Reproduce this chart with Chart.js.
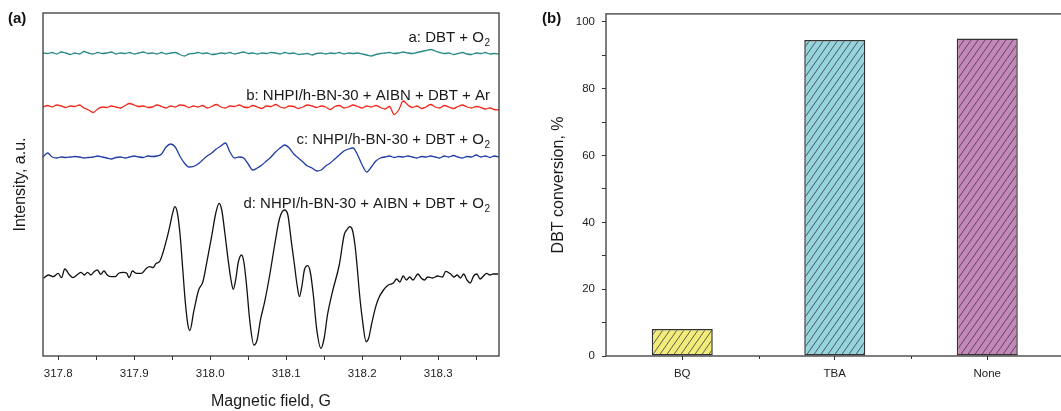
<!DOCTYPE html>
<html><head><meta charset="utf-8">
<script src="https://cdn.jsdelivr.net/npm/chart.js@4"></script>
<style>
html,body{margin:0;padding:0;background:#fff;overflow:hidden;width:1061px;height:411px;}
#ca{position:absolute;left:0;top:0;}
#cb{position:absolute;left:530px;top:0;}
</style></head><body>
<canvas id="ca" width="530" height="411"></canvas>
<canvas id="cb" width="545" height="411"></canvas>
<script>
// ---------- Panel (a): EPR spectra ----------
const FIELD = [
317.780,317.786,317.792,317.798,317.804,317.810,317.816,317.822,317.828,317.834,
317.840,317.846,317.852,317.858,317.864,317.870,317.876,317.882,317.888,317.894,
317.900,317.906,317.912,317.918,317.924,317.930,317.936,317.942,317.948,317.954,
317.960,317.966,317.972,317.978,317.984,317.990,317.996,318.002,318.008,318.014,
318.020,318.026,318.032,318.038,318.044,318.050,318.056,318.062,318.068,318.074,
318.080,318.086,318.092,318.098,318.104,318.110,318.116,318.122,318.128,318.134,
318.140,318.146,318.152,318.158,318.164,318.170,318.176,318.182,318.188,318.194,
318.200,318.206,318.212,318.218,318.224,318.230,318.236,318.242,318.248,318.254,
318.260,318.266,318.272,318.278,318.284,318.290,318.296,318.302,318.308,318.314,
318.320,318.326,318.332,318.338,318.344,318.350,318.356,318.362,318.368,318.374,
318.380];

// a: DBT + O2 (offset trace, a.u.)
const traceA = [
303,302.5,303.5,302,304,303,301.5,303,302,304.5,
303,302,303.5,302.5,303,304,302,303,302.5,303.5,
302,303,304,302.5,303,302,303.5,302,303,303.5,
301.5,300,302,302.5,303.5,302.5,303,301.5,302,303,
302.5,303.5,302,303,304,302.5,303,302,303,302.5,
303.5,303,302,303.5,302.5,303,301.5,302,302.5,301,
302.5,303,302,303,302.5,303.5,302,303,302.5,303,
302,301,300,301.5,302.5,303,303.5,302.5,303,304,
303,302.5,303.5,304.5,305.5,306.5,305,303.5,302.5,303,
301.5,302.5,303.5,302,301.5,303,302.5,303.5,302,302.5,
302];

// b: NHPI/h-BN-30 + AIBN + DBT + Ar
const traceB = [
249,250.5,249,251,250,248.5,250,249.5,251,248,
246,243.5,247,249,248.5,250,249,248,250.5,252.5,
251,249.5,250,248.5,249,251,249.5,248,250,249,
251,250.5,248.5,250,249,250.5,248,249.5,251.5,249,
248,250,249.5,251,249,248.5,250.5,249,247.5,250,
249.5,251.5,249,248,250,249.5,247.5,249,251,250,
248.5,250,249,246.5,249.5,250.5,248,249,251,249.5,
248,250,249,250.5,248.5,247,249.5,241.5,246,255,
251,248.5,250,247.5,249,251.5,249,248,250.5,249,
247.5,249.5,251,249,248,249.5,248.5,247,248,246.5,
246];

// c: NHPI/h-BN-30 + DBT + O2
const traceC = [
199,203,199,198,199,198.5,199,199.5,199,198,
198.5,199,200,199,198,197,198.5,199,198,199,
200,199,198.5,200,199.5,200,202,209,212,209,
200,193,189,189.5,192,196,200,203,207,210,
213,204,198,199,198,192,186,188,191,195,
199,204,208,211,208,202,198,194,190,188,
185,186,190,193,197,201,205,207,208,201,
191,184,189,195,198,199,200,198.5,199.5,199,
200,199,198,199.5,199,200,199,198,200,199,
200.5,199,198,199.5,199,201,199,200,198.5,200,
199];

// d: NHPI/h-BN-30 + AIBN + DBT + O2
const dField = [
317.7807,317.7871,317.7936,317.8000,317.8043,317.8086,317.8150,317.8193,317.8258,317.8301,
317.8344,317.8387,317.8430,317.8473,317.8516,317.8559,317.8602,317.8645,317.8701,317.8752,
317.8795,317.8860,317.8903,317.8933,317.8976,317.9032,317.9096,317.9161,317.9204,317.9247,
317.9290,317.9333,317.9376,317.9419,317.9462,317.9505,317.9535,317.9569,317.9604,317.9638,
317.9672,317.9707,317.9733,317.9783,317.9848,317.9904,317.9957,318.0022,318.0074,318.0117,
318.0152,318.0196,318.0239,318.0274,318.0304,318.0335,318.0370,318.0413,318.0443,318.0478,
318.0522,318.0574,318.0617,318.0661,318.0717,318.0783,318.0848,318.0913,318.0978,318.1022,
318.1065,318.1109,318.1143,318.1174,318.1209,318.1239,318.1283,318.1317,318.1357,318.1400,
318.1457,318.1500,318.1543,318.1609,318.1698,318.1763,318.1806,318.1836,318.1871,318.1905,
318.1935,318.1966,318.2000,318.2052,318.2086,318.2121,318.2172,318.2216,318.2280,318.2345,
318.2410,318.2453,318.2496,318.2539,318.2582,318.2625,318.2668,318.2733,318.2776,318.2819,
318.2862,318.2927,318.2991,318.3056,318.3099,318.3164,318.3207,318.3250,318.3293,318.3336,
318.3379,318.3422,318.3466,318.3509,318.3552,318.3595,318.3638,318.3681,318.3724,318.3789];
const dInt = [
77.7,81,79.3,82.7,78.3,87,81,78.3,81.7,83.7,
81,83.7,81,84.3,86,81.7,85,81,79.3,79.3,
82.7,83.7,82.7,78.3,85,82.7,82.7,87.7,89.3,88.3,
92.7,94.3,102.7,114.3,127.7,142.7,149.3,142.7,121,87.7,
54.3,31,25.5,44.3,66,74.3,94.3,121,143,152.7,
146,121,94.3,76,66.7,76,94,101,94,71,
34.3,11,16,36,54.3,81,111,137.7,146,141,
116,91,71,59.3,71,86,90.3,84,61,27.7,
7.7,18,41,64.3,91,121,127,129.3,126,111,
88,61,38,14.3,18,31,47.7,57.7,66,71,
73,77,74,80,76,79,76,82,78,76,
79,78,80,79,84.7,82,79,81,78,82,
76,73,80,82,77,80,82.7,81,82,82];

const fieldTicks = [317.8,317.85,317.9,317.95,318.0,318.05,318.1,318.15,318.2,318.25,318.3,318.35];
const fieldTickLabels = ['317.8','','317.9','','318.0','','318.1','','318.2','','318.3',''];
const traceNames = [['a: DBT + O','2'],['b: NHPI/h-BN-30 + AIBN + DBT + Ar',''],['c: NHPI/h-BN-30 + DBT + O','2'],['d: NHPI/h-BN-30 + AIBN + DBT + O','2']];
const traceColors = ['#2b8a86','#f2291c','#1f3da8','#111111'];

// ---------- Panel (b): DBT conversion ----------
const conditions = ['BQ','TBA','None'];
const conversion = [8.1, 94.6, 95.0];
const convTicks = [0,10,20,30,40,50,60,70,80,90,100];
const convTickLabels = ['0','','20','','40','','60','','80','','100'];
const barColors = ['#f2ec7b','#96d4de','#c587ba'];

const FONT = '"Liberation Sans", Arial, sans-serif';
Chart.defaults.font.family = FONT;
Chart.defaults.color = '#222';
Chart.defaults.animation = false;

const boxPlugin = {
  id: 'box',
  afterDraw(chart, args, o) {
    const {ctx, chartArea: {left, top, right, bottom}} = chart;
    ctx.save();
    ctx.strokeStyle = '#3a3a3a'; ctx.lineWidth = 1.3;
    ctx.strokeRect(left, top, right - left, bottom - top);
    ctx.fillStyle = '#111';
    ctx.font = 'bold 15px ' + FONT;
    ctx.textBaseline = 'middle'; ctx.textAlign = 'left';
    ctx.fillText(o.tag, o.tagX, o.tagY);
    ctx.restore();
  }
};

const traceLabelPlugin = {
  id: 'traceLabels',
  afterDraw(chart, args, o) {
    const {ctx, chartArea} = chart;
    const ys = chart.scales.y;
    ctx.save();
    ctx.fillStyle = '#1a1a1a';
    ctx.textBaseline = 'alphabetic';
    const rx = chartArea.right - o.rightInset;
    traceNames.forEach((t, i) => {
      const y = ys.getPixelForValue(o.baselines[i]);
      ctx.font = '10px ' + FONT;
      const sw = t[1] ? ctx.measureText(t[1]).width : 0;
      ctx.textAlign = 'right';
      if (t[1]) ctx.fillText(t[1], rx, y + 3.5);
      ctx.font = '15px ' + FONT;
      ctx.fillText(t[0], rx - sw - (t[1] ? 0.5 : 0), y);
    });
    ctx.restore();
  }
};

const minorCatTicks = {
  id: 'minorCat',
  afterDraw(chart) {
    const {ctx} = chart;
    const xs = chart.scales.x;
    const b = chart.chartArea.bottom;
    ctx.save();
    ctx.strokeStyle = '#333'; ctx.lineWidth = 1;
    ctx.beginPath();
    for (let i = 0; i < conditions.length - 1; i++) {
      const px = Math.round((xs.getPixelForValue(i) + xs.getPixelForValue(i + 1)) / 2) + 0.5;
      ctx.moveTo(px, b); ctx.lineTo(px, b + 3);
    }
    ctx.stroke();
    ctx.restore();
  }
};

function mk(xs, ys) { return xs.map((x, i) => ({x, y: ys[i]})); }
const traces = [mk(FIELD, traceA), mk(FIELD, traceB), mk(FIELD, traceC), mk(dField, dInt)];

new Chart(document.getElementById('ca'), {
  type: 'line',
  data: {
    datasets: traces.map((d, i) => ({
      data: d, borderColor: traceColors[i], borderWidth: 1.3, pointRadius: 0,
      fill: false, cubicInterpolationMode: 'monotone'
    }))
  },
  options: {
    responsive: false, events: [],
    layout: {padding: {top: 13, right: 31, left: 0, bottom: 0}},
    plugins: {
      legend: {display: false}, tooltip: {enabled: false},
      box: {tag: '(a)', tagX: 8, tagY: 19},
      traceLabels: {rightInset: 9, baselines: [313.7, 256, 211.7, 147.7]}
    },
    scales: {
      x: {
        type: 'linear', min: 317.78, max: 318.38,
        afterBuildTicks: s => { s.ticks = fieldTicks.map(v => ({value: v})); },
        afterFit: s => { s.height = 55; },
        ticks: {callback: (v, i) => fieldTickLabels[i], padding: 7, font: {size: 11.5}, color: '#222', maxRotation: 0, autoSkip: false},
        grid: {display: true, drawOnChartArea: false, drawTicks: true, tickLength: 4, color: '#333'},
        border: {display: false},
        title: {display: true, text: 'Magnetic field, G', font: {size: 16, lineHeight: 1}, padding: {top: 0, bottom: 1}, color: '#1a1a1a'}
      },
      y: {
        type: 'linear', min: 0, max: 343,
        afterFit: s => { s.width = 43; },
        ticks: {display: false},
        grid: {display: false},
        border: {display: false},
        title: {display: true, text: 'Intensity, a.u.', font: {size: 16, lineHeight: 1}, padding: {top: 12.8, bottom: 0}, color: '#1a1a1a'}
      }
    }
  },
  plugins: [boxPlugin, traceLabelPlugin]
});

function hatch(color) {
  const c = document.createElement('canvas'); c.width = 7; c.height = 10;
  const g = c.getContext('2d');
  g.fillStyle = color; g.fillRect(0, 0, 7, 10);
  g.strokeStyle = '#3a3a3a'; g.lineWidth = 0.8;
  g.beginPath();
  for (const dx of [-7, 0, 7]) { g.moveTo(dx, 10); g.lineTo(dx + 7, 0); }
  g.stroke();
  return g.createPattern(c, 'repeat');
}

new Chart(document.getElementById('cb'), {
  type: 'bar',
  data: {
    labels: conditions,
    datasets: [{
      data: conversion,
      backgroundColor: barColors.map(hatch),
      borderColor: '#333', borderWidth: 1.5, borderSkipped: false,
      barPercentage: 0.4, categoryPercentage: 1
    }]
  },
  options: {
    responsive: false, events: [],
    layout: {padding: {top: 13, right: 11.5, left: 0, bottom: 0}},
    plugins: {legend: {display: false}, tooltip: {enabled: false}, box: {tag: '(b)', tagX: 12, tagY: 19}},
    scales: {
      x: {
        type: 'category', offset: true,
        afterFit: s => { s.height = 55; },
        ticks: {padding: 7, font: {size: 11.5}, color: '#222'},
        grid: {display: true, offset: false, drawOnChartArea: false, drawTicks: true, tickLength: 4, color: '#333'},
        border: {display: false}
      },
      y: {
        type: 'linear', min: 0, max: 102.4,
        afterBuildTicks: s => { s.ticks = convTicks.map(v => ({value: v})); },
        afterFit: s => { s.width = 76; },
        ticks: {callback: (v, i) => convTickLabels[i], padding: 7, font: {size: 11.5}, color: '#222', autoSkip: false},
        grid: {display: true, drawOnChartArea: false, drawTicks: true, tickLength: 4, color: '#333'},
        border: {display: false},
        title: {display: true, text: 'DBT conversion, %', font: {size: 16, lineHeight: 1}, padding: {top: 21, bottom: 0}, color: '#1a1a1a'}
      }
    }
  },
  plugins: [boxPlugin, minorCatTicks]
});
</script>
</body></html>
